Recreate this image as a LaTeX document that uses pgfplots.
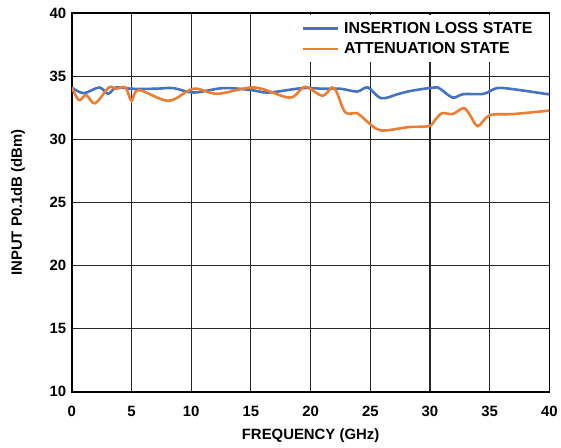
\documentclass[border=0pt]{standalone}
\usepackage{fontspec}
\setmainfont{Liberation Sans}
\usepackage{pgfplots}
\pgfplotsset{compat=1.18}
\definecolor{ilblue}{HTML}{4472C4}
\definecolor{attorange}{HTML}{ED7D31}
\newcommand{\lblfont}{\fontsize{15}{18}\selectfont\bfseries}
\newcommand{\legfont}{\fontsize{16}{19}\selectfont\bfseries}

\begin{document}
\begin{tikzpicture}
\begin{axis}[name=ax,
    scale only axis,
    width=479bp, height=380bp,
    xmin=0, xmax=40, ymin=10, ymax=40,
    xtick={0,5,...,40}, ytick={10,15,...,40},
    grid=major,
    major grid style={black!85, line width=1.1pt},
    axis line style={black, line width=1.6pt},
    major tick length=0pt,
    /pgf/number format/assume math mode=true,
    ticklabel style={font=\lblfont},
    xticklabel style={yshift=-11bp},
    yticklabel style={xshift=-2bp},
    xlabel={FREQUENCY (GHz)},
    ylabel={INPUT P0.1dB (dBm)},
    label style={font=\lblfont},
    xlabel style={at={(axis description cs:0.5,0)}, anchor=center, yshift=-44bp},
    ylabel style={at={(axis description cs:0,0.5)}, anchor=center, yshift=54bp},
    legend style={at={(axis cs:18.9,39.85)}, anchor=north west, draw=none, fill=white,
        font=\legfont, row sep=4bp, inner xsep=4bp, inner ysep=5bp,
        nodes={inner xsep=5bp}},
    legend cell align=left,
    legend image code/.code={\draw[#1] (0bp,0bp) -- (35bp,0bp);},
]
\addplot[ilblue, line width=2.6pt, smooth, tension=0.55] coordinates {
    (0,34.1) (1.0,33.65) (2.3,34.1) (3.05,33.6) (3.7,34.1) (5,34.0) (7,34.0)
    (8.5,34.05) (10.2,33.7) (12.7,34.05) (15,33.9) (16.5,33.7) (19.3,34.05)
    (21,34.0) (22.5,34.0) (23.9,33.78) (24.8,34.1) (25.9,33.25) (27.3,33.57)
    (28.4,33.83) (30.4,34.1) (30.9,33.96) (31.9,33.3) (32.8,33.57) (34.5,33.6)
    (35.6,34.05) (37,33.96) (40,33.55)
};
\addlegendentry{INSERTION LOSS STATE}
\addplot[attorange, line width=2.6pt, smooth, tension=0.55] coordinates {
    (0,34.1) (0.6,33.1) (1.2,33.5) (1.95,32.85) (3.1,34.1) (3.7,34.0) (4.5,34.1)
    (5.0,33.05) (5.6,33.9) (8.1,33.05) (10.2,34.0) (12.2,33.6) (15.3,34.1)
    (18.2,33.3) (19.3,34.05) (19.8,34.1) (21.0,33.44) (21.8,34.1) (22.2,33.7)
    (22.9,32.14) (23.9,32.06) (24.5,31.6) (25.5,30.83) (26.3,30.7) (28.2,30.96)
    (29.9,31.04) (30.4,31.5) (31.0,32.06) (31.9,32.0) (32.8,32.47) (33.3,32.0)
    (34.0,31.04) (35.0,31.9) (37.0,32.0) (40,32.27)
};
\addlegendentry{ATTENUATION STATE}
\end{axis}
\path (ax.south west) ++(-72bp,-56bp) coordinate (bl);
\path (ax.north east) ++(10bp,13bp) coordinate (tr);
\useasboundingbox (bl) rectangle (tr);
\end{tikzpicture}
\end{document}
